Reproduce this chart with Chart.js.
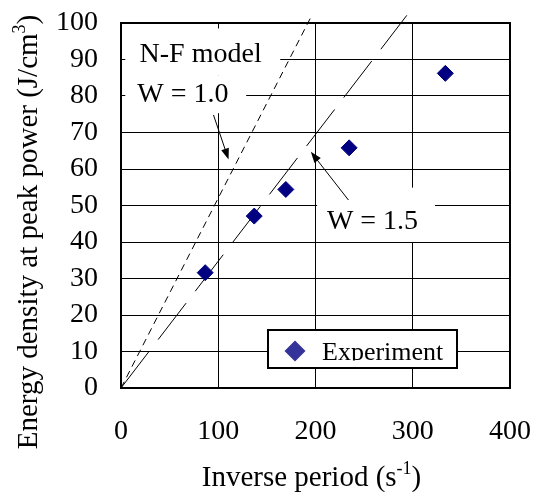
<!DOCTYPE html>
<html>
<head>
<meta charset="utf-8">
<script src="https://cdn.jsdelivr.net/npm/chart.js@4.4.1/dist/chart.umd.min.js"></script>
<style>
  html, body { margin: 0; padding: 0; background: #fff; }
  canvas { display: block; }
</style>
</head>
<body>
<canvas id="energyChart" width="534" height="492"></canvas>
<script>
// measured points
const inversePeriod = [86.6, 137.0, 169.5, 234.6, 333.5];
const energyDensity = [31.6, 47.1, 54.4, 65.8, 86.2];

// N-F model lines, end points
const modelW10X = [0, 196.2];
const modelW10Y = [0, 102.1];
const modelW15X = [0, 293.9];
const modelW15Y = [0, 102.1];

const xTickValues = [0, 100, 200, 300, 400];
const yTickValues = [0, 10, 20, 30, 40, 50, 60, 70, 80, 90, 100];

const serif = "'Liberation Serif', 'Times New Roman', serif";

// callouts, placed in data units
const notes = [
  { text: "N-F model", x: 19.1, y: 89.3, box: [4.4, 98.5, 163.7, 85.7] },
  { text: "W = 1.0", x: 16.7, y: 78.4, box: [4.4, 85.7, 128.7, 75.3] },
  { text: "W = 1.5", x: 211.7, y: 43.6, box: [201.7, 54.9, 322.9, 40.0] },
];
const arrows = [
  { from: [95.1, 74.8], to: [110.6, 62.6] },
  { from: [233.9, 51.5], to: [195.2, 64.7] },
];

function toPoints(xs, ys) {
  return xs.map((x, i) => ({ x: x, y: ys[i] }));
}

// draws text parts, superscript parts smaller and raised
function drawRich(ctx, parts, x, y, size, align) {
  let total = 0;
  const widths = parts.map(p => {
    ctx.font = (p[1] ? size * 0.62 : size) + "px " + serif;
    const w = ctx.measureText(p[0]).width;
    total += w;
    return w;
  });
  let cx = align === "center" ? x - total / 2 : x;
  ctx.textAlign = "left";
  ctx.textBaseline = "alphabetic";
  parts.forEach((p, i) => {
    ctx.font = (p[1] ? size * 0.62 : size) + "px " + serif;
    ctx.fillText(p[0], cx, p[1] ? y - size * 0.42 : y);
    cx += widths[i];
  });
}

const notesPlugin = {
  id: "notes",
  beforeDatasetsDraw(chart) {
    const ctx = chart.ctx;
    const xs = chart.scales.x, ys = chart.scales.y;
    ctx.save();
    ctx.fillStyle = "#fff";
    notes.forEach(n => {
      const l = xs.getPixelForValue(n.box[0]), t = ys.getPixelForValue(n.box[1]);
      const r = xs.getPixelForValue(n.box[2]), b = ys.getPixelForValue(n.box[3]);
      ctx.fillRect(l, t, r - l, b - t);
    });
    ctx.restore();
  },
  afterDatasetsDraw(chart) {
    const ctx = chart.ctx;
    const xs = chart.scales.x, ys = chart.scales.y;
    const area = chart.chartArea;
    ctx.save();
    ctx.fillStyle = "#000";
    ctx.strokeStyle = "#000";

    notes.forEach(n => {
      drawRich(ctx, [[n.text, false]], xs.getPixelForValue(n.x), ys.getPixelForValue(n.y), 28, "left");
    });

    arrows.forEach(a => {
      const x0 = xs.getPixelForValue(a.from[0]), y0 = ys.getPixelForValue(a.from[1]);
      const x1 = xs.getPixelForValue(a.to[0]), y1 = ys.getPixelForValue(a.to[1]);
      const ang = Math.atan2(y1 - y0, x1 - x0);
      ctx.lineWidth = 1;
      ctx.beginPath();
      ctx.moveTo(x0, y0);
      ctx.lineTo(x1 - 8 * Math.cos(ang), y1 - 8 * Math.sin(ang));
      ctx.stroke();
      ctx.beginPath();
      ctx.moveTo(x1, y1);
      ctx.lineTo(x1 - 11 * Math.cos(ang) + 4 * Math.sin(ang), y1 - 11 * Math.sin(ang) - 4 * Math.cos(ang));
      ctx.lineTo(x1 - 11 * Math.cos(ang) - 4 * Math.sin(ang), y1 - 11 * Math.sin(ang) + 4 * Math.cos(ang));
      ctx.closePath();
      ctx.fill();
    });

    // legend box
    const lx = area.left + 147, ly = area.top + 307;
    ctx.fillStyle = "#fff";
    ctx.fillRect(lx, ly, 189, 38);
    ctx.lineWidth = 2;
    ctx.strokeRect(lx, ly, 189, 38);
    ctx.fillStyle = "#333399";
    ctx.beginPath();
    ctx.moveTo(lx + 27 - 10.5, ly + 21);
    ctx.lineTo(lx + 27, ly + 10.5);
    ctx.lineTo(lx + 27 + 10.5, ly + 21);
    ctx.lineTo(lx + 27, ly + 31.5);
    ctx.closePath();
    ctx.fill();
    ctx.save();
    ctx.beginPath();
    ctx.rect(lx, ly, 189, 30.5);
    ctx.clip();
    ctx.fillStyle = "#000";
    drawRich(ctx, [["Experiment", false]], lx + 54, ly + 30, 26, "left");
    ctx.restore();

    // plot frame
    ctx.lineWidth = 2;
    ctx.strokeStyle = "#000";
    ctx.strokeRect(area.left, area.top, area.right - area.left, area.bottom - area.top);
    ctx.restore();
  },
  afterDraw(chart) {
    const ctx = chart.ctx;
    const area = chart.chartArea;
    ctx.save();
    ctx.fillStyle = "#000";
    drawRich(ctx, [["Inverse period (s", false], ["-1", true], [")", false]],
      (area.left + area.right) / 2 - 4, 486, 29, "center");
    ctx.translate(37, 232);
    ctx.rotate(-Math.PI / 2);
    drawRich(ctx, [["Energy density at peak power (J/cm", false], ["3", true], [")", false]],
      0, 0, 29, "center");
    ctx.restore();
  }
};

const ctx = document.getElementById("energyChart").getContext("2d");
const energyChart = new Chart(ctx, {
  type: "scatter",
  data: {
    datasets: [
      {
        label: "Experiment",
        data: toPoints(inversePeriod, energyDensity),
        pointStyle: "rectRot",
        pointRadius: 8,
        pointHoverRadius: 8,
        backgroundColor: "#000080",
        borderColor: "#000080",
        borderWidth: 1,
      },
      {
        label: "W = 1.0",
        type: "line",
        data: toPoints(modelW10X, modelW10Y),
        borderColor: "#000",
        borderWidth: 1,
        borderDash: [7, 5],
        pointRadius: 0,
        fill: false,
        clip: false,
      },
      {
        label: "W = 1.5",
        type: "line",
        data: toPoints(modelW15X, modelW15Y),
        borderColor: "#000",
        borderWidth: 1,
        borderDash: [46, 15],
        pointRadius: 0,
        fill: false,
        clip: false,
      },
    ],
  },
  options: {
    responsive: false,
    animation: false,
    layout: {
      padding: { top: 23, right: 24, left: 0, bottom: 0 },
    },
    scales: {
      x: {
        type: "linear",
        min: 0,
        max: 400,
        afterBuildTicks: (scale) => {
          scale.ticks = xTickValues.map(v => ({ value: v }));
        },
        afterFit: (scale) => {
          scale.height = 104;
          scale.paddingLeft = 0;
          scale.paddingRight = 0;
        },
        grid: {
          color: "#000",
          lineWidth: 1,
          drawTicks: false,
        },
        border: { display: false },
        ticks: {
          color: "#000",
          padding: 27,
          maxRotation: 0,
          autoSkip: false,
          font: { family: serif, size: 28 },
        },
      },
      y: {
        min: 0,
        max: 100,
        afterBuildTicks: (scale) => {
          scale.ticks = yTickValues.map(v => ({ value: v }));
        },
        afterFit: (scale) => {
          scale.width = 121;
          scale.paddingTop = 0;
          scale.paddingBottom = 0;
        },
        grid: {
          color: "#000",
          lineWidth: 1,
          drawTicks: false,
        },
        border: { display: false },
        ticks: {
          color: "#000",
          padding: 23,
          autoSkip: false,
          font: { family: serif, size: 28 },
        },
      },
    },
    plugins: {
      legend: { display: false },
      tooltip: { enabled: false },
    },
  },
  plugins: [notesPlugin],
});
</script>
</body>
</html>
